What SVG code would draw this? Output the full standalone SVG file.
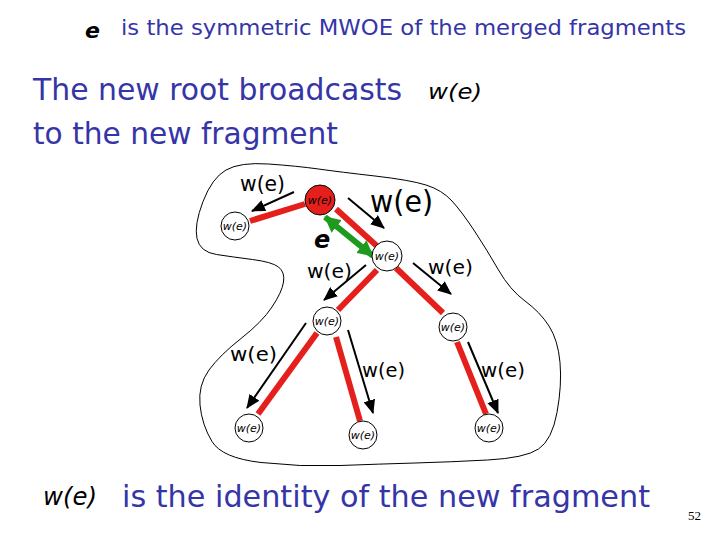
<svg xmlns="http://www.w3.org/2000/svg" width="720" height="540" viewBox="0 0 720 540">
<style>
.blue{fill:#3535a8;font-family:"DejaVu Sans","Liberation Sans",sans-serif}
.lbl{fill:#000;font-family:"DejaVu Sans","Liberation Sans",sans-serif}
.nl{fill:#000;font-family:"DejaVu Sans","Liberation Sans",sans-serif;font-size:11px;font-style:italic;text-anchor:middle}
.node{fill:#fff;stroke:#000;stroke-width:1}
.root{fill:#e5201c;stroke:#000;stroke-width:1}
.tree{stroke:#e5201c;stroke-width:6;fill:none}
.msg{stroke:#000;stroke-width:2;fill:none;marker-end:url(#ah)}
.mwoe{stroke:#1e9a1e;stroke-width:6;fill:none;marker-start:url(#gh);marker-end:url(#gh)}
</style>
<defs>
<marker id="ah" markerUnits="userSpaceOnUse" markerWidth="14" markerHeight="12" refX="13" refY="6" orient="auto"><path d="M0,0 L14,6 L0,12 Z" fill="#000"/></marker>
<marker id="gh" markerUnits="userSpaceOnUse" markerWidth="16" markerHeight="16" refX="15" refY="8" orient="auto-start-reverse"><path d="M0,0 L16,8 L0,16 Z" fill="#1e9a1e"/></marker>
</defs>
<rect width="720" height="540" fill="#fff"/>
<path id="fragment" d="M 268.5,164 Q 297,166 318.5,169 Q 340,172 375,176 Q 410,180 426,185 Q 442,190 452,201 Q 462,212 474.5,231 Q 487,250 498.5,270 Q 510,290 525,301 Q 540,312 549,326 Q 558,340 560,362.5 Q 562,385 557,412.5 Q 552,440 538.5,449 Q 525,458 487.5,460 Q 450,462 415,463 Q 380,464 340,465.5 Q 300,467 261,462.5 Q 222,458 212,441.5 Q 202,425 200,405 Q 198,385 209,370 Q 220,355 241,338.5 Q 262,322 272,307 Q 282,292 283.5,282 Q 285,272 278.5,267 Q 272,262 252.5,259.5 Q 233,257 216.5,254.5 Q 200,252 197,238.5 Q 194,225 203,201.5 Q 212,178 226,170 Q 240,162 268.5,164 Z" fill="none" stroke="#000" stroke-width="1"/>
<g id="header">
<text x="85" y="38" class="lbl" font-size="22" font-style="italic" font-weight="bold">e</text>
<text x="121" y="35" class="blue" font-size="21" textLength="565" lengthAdjust="spacingAndGlyphs">is the symmetric MWOE of the merged fragments</text>
<text x="33" y="100" class="blue" font-size="31" textLength="369" lengthAdjust="spacingAndGlyphs">The new root broadcasts</text>
<text x="428" y="99" class="lbl" font-size="22" font-style="italic" textLength="54" lengthAdjust="spacingAndGlyphs">w(e)</text>
<text x="33" y="144" class="blue" font-size="31" textLength="305" lengthAdjust="spacingAndGlyphs">to the new fragment</text>
</g>
<g id="connectors">
<line class="tree" x1="250" y1="221" x2="305" y2="204"/>
<line class="tree" x1="336" y1="209" x2="378" y2="247"/>
<line class="tree" x1="377" y1="270" x2="338" y2="310"/>
<line class="tree" x1="396" y1="268" x2="443" y2="313"/>
<line class="tree" x1="317" y1="333" x2="258" y2="414"/>
<line class="tree" x1="336" y1="337" x2="360" y2="421"/>
<line class="tree" x1="457" y1="342" x2="486" y2="414"/>
<line class="mwoe" x1="325" y1="217" x2="373" y2="256"/>
<line class="msg" x1="294" y1="192" x2="252" y2="211"/>
<line class="msg" x1="348" y1="198" x2="384" y2="228"/>
<line class="msg" x1="366" y1="265" x2="324" y2="300"/>
<line class="msg" x1="413" y1="263" x2="451" y2="294"/>
<line class="msg" x1="306" y1="323" x2="247" y2="408"/>
<line class="msg" x1="348" y1="330" x2="373" y2="413"/>
<line class="msg" x1="468" y1="342" x2="498" y2="413"/>
</g>
<g id="edge-labels">
<text x="240" y="191" class="lbl" font-size="21" textLength="45" lengthAdjust="spacingAndGlyphs">w(e)</text>
<text x="370" y="212" class="lbl" font-size="30" textLength="63" lengthAdjust="spacingAndGlyphs">w(e)</text>
<text x="314" y="248" class="lbl" font-size="24" font-style="italic" font-weight="bold">e</text>
<text x="307" y="278" class="lbl" font-size="20" textLength="45" lengthAdjust="spacingAndGlyphs">w(e)</text>
<text x="428" y="274" class="lbl" font-size="20" textLength="45" lengthAdjust="spacingAndGlyphs">w(e)</text>
<text x="230" y="361" class="lbl" font-size="20" textLength="47" lengthAdjust="spacingAndGlyphs">w(e)</text>
<text x="362" y="377" class="lbl" font-size="20" textLength="43" lengthAdjust="spacingAndGlyphs">w(e)</text>
<text x="481" y="377" class="lbl" font-size="20" textLength="44" lengthAdjust="spacingAndGlyphs">w(e)</text>
</g>
<g id="root"><circle class="root" cx="320" cy="200" r="15"/><text class="nl" x="320" y="204">w(e)</text></g>
<g id="n-left"><circle class="node" cx="235" cy="226" r="14"/><text class="nl" x="235" y="230">w(e)</text></g>
<g id="n-mid"><circle class="node" cx="387" cy="256" r="15"/><text class="nl" x="387" y="260">w(e)</text></g>
<g id="n-a"><circle class="node" cx="327" cy="321" r="14"/><text class="nl" x="327" y="325">w(e)</text></g>
<g id="n-b"><circle class="node" cx="453" cy="327" r="14"/><text class="nl" x="453" y="331">w(e)</text></g>
<g id="n-c"><circle class="node" cx="249" cy="428" r="14"/><text class="nl" x="249" y="432">w(e)</text></g>
<g id="n-d"><circle class="node" cx="363" cy="435" r="14"/><text class="nl" x="363" y="439">w(e)</text></g>
<g id="n-e"><circle class="node" cx="489" cy="428" r="14"/><text class="nl" x="489" y="432">w(e)</text></g>
<g id="footer">
<text x="43" y="505" class="lbl" font-size="24" font-style="italic" textLength="54" lengthAdjust="spacingAndGlyphs">w(e)</text>
<text x="122" y="507" class="blue" font-size="30" textLength="528" lengthAdjust="spacingAndGlyphs">is the identity of the new fragment</text>
<text x="688" y="520" font-family="Liberation Serif, serif" font-size="13" fill="#000">52</text>
</g>
</svg>
